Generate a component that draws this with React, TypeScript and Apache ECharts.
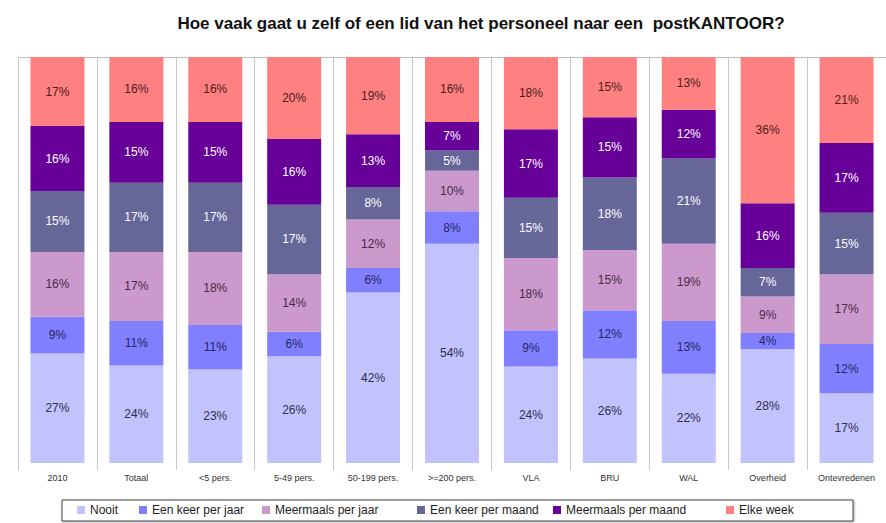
import React, { useEffect, useRef } from "react";
import * as echarts from "echarts";

const categories = ["2010", "Totaal", "<5 pers.", "5-49 pers.", "50-199 pers.", ">=200 pers.", "VLA", "BRU", "WAL", "Overheid", "Ontevredenen"];
const seriesNames = ["Nooit", "Een keer per jaar", "Meermaals per jaar", "Een keer per maand", "Meermaals per maand", "Elke week"];
const nooit = [27, 24, 23, 26, 42, 54, 24, 26, 22, 28, 17];
const eenKeerPerJaar = [9, 11, 11, 6, 6, 8, 9, 12, 13, 4, 12];
const meermaalsPerJaar = [16, 17, 18, 14, 12, 10, 18, 15, 19, 9, 17];
const eenKeerPerMaand = [15, 17, 17, 17, 8, 5, 15, 18, 21, 7, 15];
const meermaalsPerMaand = [16, 15, 15, 16, 13, 7, 17, 15, 12, 16, 17];
const elkeWeek = [17, 16, 16, 20, 19, 16, 18, 15, 13, 36, 21];
const seriesValues = [nooit, eenKeerPerJaar, meermaalsPerJaar, eenKeerPerMaand, meermaalsPerMaand, elkeWeek];

const colors = ["#C2C2FC", "#8080FF", "#CC99CC", "#666699", "#660099", "#FF8080"];
const labelColors = ["#2f2f4f", "#262660", "#4a2a4a", "#ffffff", "#ffffff", "#4a1c1c"];
const legendLefts = [77, 139, 262, 417, 553, 726];

export default function App() {
  const ref = useRef<HTMLDivElement>(null);
  useEffect(() => {
    if (!ref.current) return;
    const chart = echarts.init(ref.current, null, { renderer: "svg" });
    const font = "Arial, 'Liberation Sans', sans-serif";
    // 100% stacked: each column's shares are drawn relative to its own total
    const totals = categories.map((_, j) => seriesValues.reduce((s, arr) => s + arr[j], 0));
    chart.setOption({
      animation: false,
      backgroundColor: "#ffffff",
      textStyle: { fontFamily: font },
      title: {
        text: "Hoe vaak gaat u zelf of een lid van het personeel naar een  postKANTOOR?",
        left: 476,
        textAlign: "center",
        top: 10,
        textStyle: { fontSize: 17, fontWeight: "bold", color: "#111", fontFamily: font },
      },
      grid: { left: 18, right: -12, top: 57, bottom: 60, containLabel: false },
      xAxis: [
        {
          type: "category",
          data: categories,
          axisLine: { show: false },
          axisTick: { show: true, length: 7, lineStyle: { color: "#c8c8c8" } },
          splitLine: { show: true, lineStyle: { color: "#c8c8c8", width: 1 } },
          axisLabel: { interval: 0, fontSize: 9, color: "#333", margin: 10, fontFamily: font },
        },
        {
          type: "category",
          data: categories,
          position: "top",
          axisLine: { show: true, lineStyle: { color: "#bdbdbd" } },
          axisTick: { show: false },
          axisLabel: { show: false },
        },
      ],
      yAxis: { type: "value", min: 0, max: 100, show: false, splitLine: { show: false } },
      legend: seriesNames.map((n, i) => ({
        data: [n],
        left: legendLefts[i],
        top: 504,
        padding: 0,
        itemWidth: 8,
        itemHeight: 8,
        icon: "rect",
        z: 5,
        textStyle: { fontSize: 12, color: "#222", fontFamily: font },
      })),
      graphic: [
        {
          type: "rect",
          z: 1,
          shape: { x: 62, y: 500, width: 791, height: 21 },
          style: { fill: "#ffffff", stroke: "#444", lineWidth: 1, shadowBlur: 2, shadowColor: "rgba(0,0,0,0.3)", shadowOffsetX: 1, shadowOffsetY: 1 },
        },
      ],
      series: seriesNames.map((n, i) => ({
        name: n,
        type: "bar",
        stack: "total",
        barWidth: 54,
        data: seriesValues[i].map((v, j) => ({ value: (v / totals[j]) * 100, raw: v })),
        itemStyle: { color: colors[i] },
        label: {
          show: true,
          position: "inside",
          formatter: (p: any) => `${p.data.raw}%`,
          fontSize: 12,
          color: labelColors[i],
          fontFamily: font,
        },
      })),
    });
    return () => chart.dispose();
  }, []);
  return <div ref={ref} style={{ position: "fixed", left: 0, top: 0, width: 886, height: 523 }} />;
}
